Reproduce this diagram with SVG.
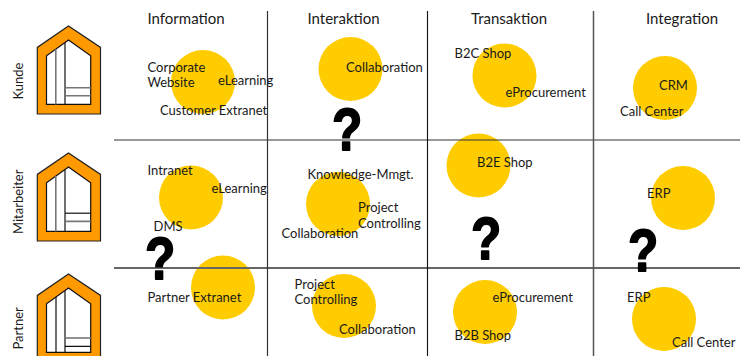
<svg xmlns="http://www.w3.org/2000/svg" width="740" height="356" viewBox="0 0 740 356">
<style>
text{font-family:"Lato","Noto Sans",sans-serif;fill:#1a1a1a;font-size:13px}
.h{font-size:15px}
.q{font-family:"Liberation Sans",sans-serif;font-weight:bold;font-size:54px;fill:#000;stroke:#000;stroke-width:1.6;stroke-linejoin:round}
.c{fill:#ffcc00}
.o{fill:#ff9900;stroke:#222;stroke-width:1.2;stroke-linejoin:miter}
.i{fill:#fff;stroke:#111;stroke-width:1.2}
.b{stroke:#111;stroke-width:1.2;fill:none}
.m{stroke:#777;stroke-width:1.6;fill:none}
</style>
<defs>
<g id="house">
<path class="o" d="M37.3 114V47.400L68.500 26 100.500 47.400V114Z"/>
<path class="i" d="M46.500 104.400V55.800L68.500 40 90.700 55.800V104.400Z"/>
<path class="b" d="M65 42.500V104.400"/>
</g>
</defs>
<g id="circles">
<circle class="c" cx="203" cy="82" r="32"/><circle class="c" cx="350.500" cy="69" r="32"/><circle class="c" cx="504.500" cy="75.500" r="32"/><circle class="c" cx="665" cy="88" r="32"/>
<circle class="c" cx="191" cy="197.500" r="32"/><circle class="c" cx="338" cy="204" r="32"/><circle class="c" cx="478.500" cy="165.500" r="32"/><circle class="c" cx="683" cy="198" r="32"/>
<circle class="c" cx="223" cy="287.500" r="32"/><circle class="c" cx="344" cy="306" r="32"/><circle class="c" cx="485" cy="312" r="32"/><circle class="c" cx="664" cy="319" r="32"/>
</g>
<g id="grid" fill="none">
<path stroke="#333" stroke-width="1.2" d="M114 140H740"/>
<path stroke="#666" stroke-width="2" d="M114 268H740"/>
<path stroke="#333" stroke-width="1.2" d="M267.500 11V356"/>
<path stroke="#111" stroke-width="1.1" d="M427.500 11V356"/>
<path stroke="#555" stroke-width="1.5" d="M593.500 11V356"/>
</g>
<g id="node-kunde">
<use href="#house"/>
<path class="m" d="M55.800 49V104.400M65 87.800H90.700M65 95.800H90.700"/>
<text transform="translate(22.500 99.500) rotate(-90)">Kunde</text>
</g>
<g id="node-mitarbeiter">
<use href="#house" y="127"/>
<path class="m" d="M55.800 176V231.400M65 221.400H90.700"/>
<path class="b" d="M65 213.200H90.700"/>
<text transform="translate(22.500 234) rotate(-90)">Mitarbeiter</text>
</g>
<g id="node-partner">
<use href="#house" y="248"/>
<path class="b" d="M56 297V352.400M65 346.400H90.700"/>
<path class="m" d="M65 338H90.700"/>
<text transform="translate(22.500 349.500) rotate(-90)">Partner</text>
</g>
<g id="headers">
<text class="h" x="147.500" y="24">Information</text>
<text class="h" x="307.500" y="24">Interaktion</text>
<text class="h" x="471" y="24">Transaktion</text>
<text class="h" x="646" y="24">Integration</text>
</g>
<g id="labels">
<text x="147.500" y="72">Corporate</text><text x="147.500" y="87">Website</text>
<text x="218" y="85">eLearning</text>
<text x="160" y="115">Customer Extranet</text>
<text x="346" y="71.500">Collaboration</text>
<text x="454.500" y="58">B2C Shop</text>
<text x="505.500" y="97">eProcurement</text>
<text x="659" y="90">CRM</text>
<text x="620" y="116">Call Center</text>
<text x="147.500" y="175">Intranet</text>
<text x="211.500" y="193">eLearning</text>
<text x="153.500" y="231">DMS</text>
<text x="307.500" y="179">Knowledge-Mmgt.</text>
<text x="358" y="212">Project</text><text x="358" y="228">Controlling</text>
<text x="281.500" y="238">Collaboration</text>
<text x="477" y="167">B2E Shop</text>
<text x="647" y="198">ERP</text>
<text x="147.500" y="302">Partner Extranet</text>
<text x="294.500" y="289">Project</text><text x="294.500" y="304">Controlling</text>
<text x="339" y="334">Collaboration</text>
<text x="492.500" y="302">eProcurement</text>
<text x="454.500" y="340">B2B Shop</text>
<text x="627" y="302">ERP</text>
<text x="672" y="347">Call Center</text>
</g>
<g id="questions">
<text class="q" transform="translate(332 149.500) scale(.92 1.1)">?</text>
<text class="q" transform="translate(145 278.500) scale(.92 1.1)">?</text>
<text class="q" transform="translate(471 258.500) scale(.92 1.1)">?</text>
<text class="q" transform="translate(628 270.500) scale(.92 1.1)">?</text>
</g>
</svg>
